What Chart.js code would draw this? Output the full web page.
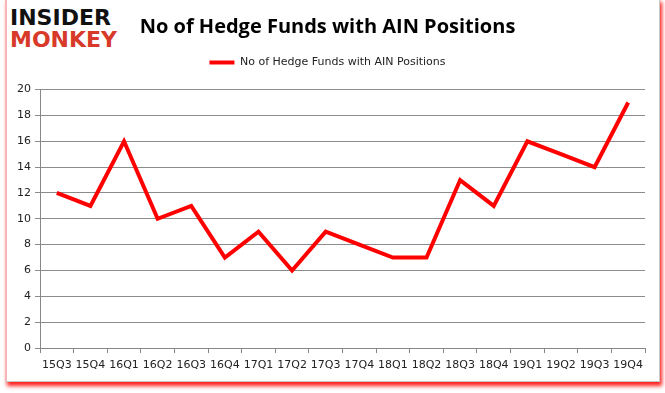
<!DOCTYPE html>
<html><head><meta charset="utf-8">
<script src="https://cdn.jsdelivr.net/npm/chart.js@4/dist/chart.umd.min.js"></script>
<style>
html,body{margin:0;padding:0;background:#fff;}
#wrap{position:relative;width:665px;height:393px;overflow:hidden;}
#frame{position:absolute;left:5px;top:-2px;width:652px;height:382px;border:1px solid #c8c8c8;border-left:2px solid #f4b6b6;box-shadow:2px 4px 4px #ff2020;background:#fff;}
#logo{position:absolute;left:10px;top:7px;font-family:"DejaVu Sans",sans-serif;font-weight:900;line-height:22px;font-size:22px;letter-spacing:0px;}
#logo .a{color:#111;}
#logo .b{color:#d83a2a;}
canvas{position:absolute;left:0;top:0;}
</style></head><body>
<div id="wrap">
<div id="frame"></div>
<div id="logo"><div class="a">INSIDER</div><div class="b">MONKEY</div></div>
<canvas id="c" width="665" height="393"></canvas>
</div>
<script>
const categories=["15Q3","15Q4","16Q1","16Q2","16Q3","16Q4","17Q1","17Q2","17Q3","17Q4","18Q1","18Q2","18Q3","18Q4","19Q1","19Q2","19Q3","19Q4"];
const values=[12,11,16,10,11,7,9,6,9,8,7,7,13,11,16,15,14,19];
const seriesName="No of Hedge Funds with AIN Positions";
const titleText="No of Hedge Funds with AIN Positions";
new Chart(document.getElementById('c'),{
type:'line',
data:{labels:categories,datasets:[{label:seriesName,data:values,borderColor:'#ff0000',backgroundColor:'#ff0000',borderWidth:4,pointRadius:0,tension:0,fill:false}]},
options:{responsive:false,animation:false,
layout:{padding:{left:10,right:20,top:15,bottom:0}},
plugins:{
title:{display:true,text:titleText,color:'#000',font:{family:'"Open Sans", sans-serif',size:20,weight:'bold'},padding:{top:0,bottom:8}},
subtitle:{display:true,text:' ',weight:500,font:{size:8},padding:{top:0,bottom:2}},
legend:{display:true,labels:{usePointStyle:true,pointStyle:'line',pointStyleWidth:25,color:'#222',font:{family:'"DejaVu Sans", sans-serif',size:11}},onClick:null},
tooltip:{enabled:false}},
scales:{
x:{offset:true,grid:{display:true,drawOnChartArea:false,offset:true,tickLength:5,color:'#888'},border:{color:'#888'},
ticks:{color:'#222',font:{family:'"DejaVu Sans", sans-serif',size:11},maxRotation:0,autoSkip:false,padding:6},
afterFit(s){s.height=45;}},
y:{min:0,max:20,grid:{color:'#8c8c8c',tickLength:5},border:{color:'#888'},
ticks:{stepSize:2,color:'#222',font:{family:'"DejaVu Sans", sans-serif',size:11},padding:4},
afterFit(s){s.width=30;}}
}}
});
</script>
</body></html>
